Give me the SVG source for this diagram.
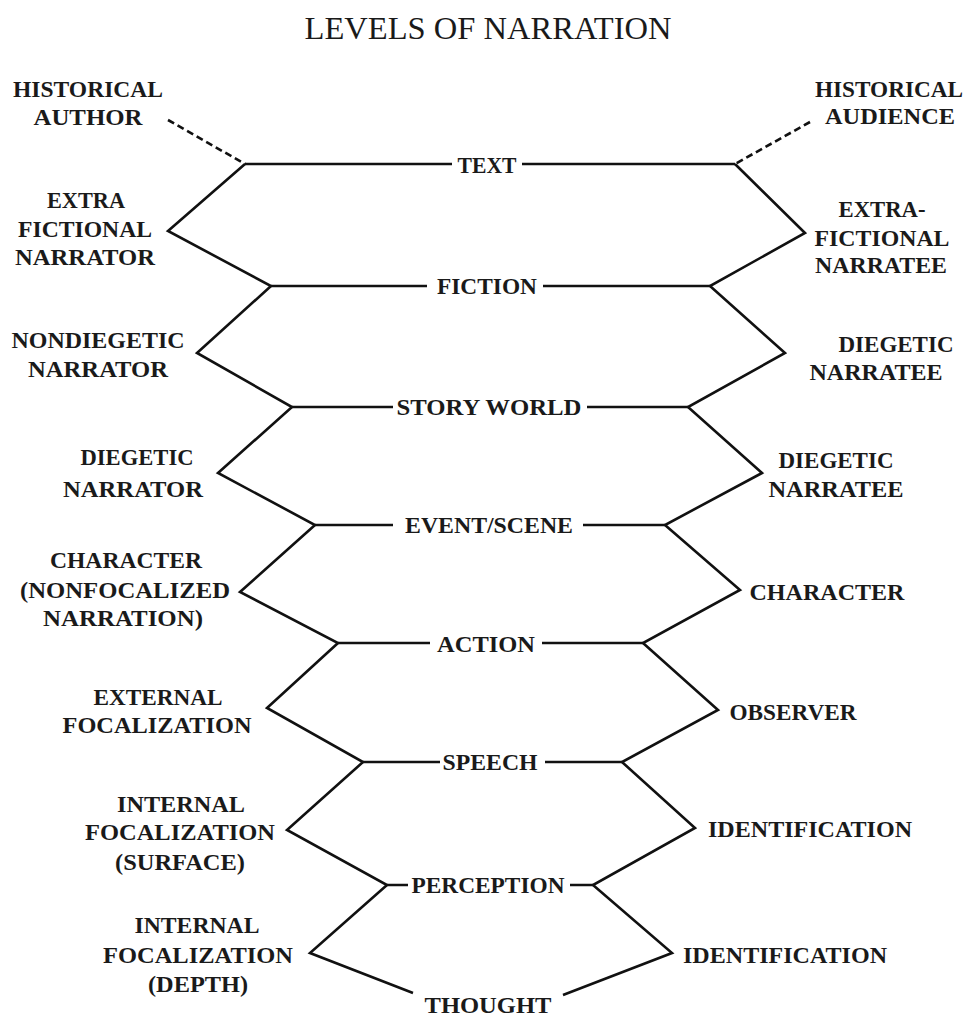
<svg xmlns="http://www.w3.org/2000/svg" width="968" height="1017" viewBox="0 0 968 1017">
<style>
text{font-family:"Liberation Serif","Times New Roman",serif;font-weight:bold;font-size:24px;fill:#1a1a1a;text-anchor:middle}
.title{font-weight:normal;font-size:31px}
.ln{fill:none;stroke:#111;stroke-width:2.6;stroke-linejoin:miter;stroke-linecap:butt}
.dash{fill:none;stroke:#111;stroke-width:2.6;stroke-dasharray:7 4}
</style>
<rect width="968" height="1017" fill="#fff"/>
<g id="title"><text class="title" x="488" y="39" textLength="367" lengthAdjust="spacingAndGlyphs">LEVELS OF NARRATION</text></g>
<g id="connectors">
<path class="dash" d="M168 120 L245 164"/>
<path class="dash" d="M810 122 L735 164"/>
<polyline class="ln" points="245,164 168,231 271,286 197,353 292,407 218,473 315,525 240,592 338,643 267,708 363,762 287,830 387,885 310,953 413,993"/>
<polyline class="ln" points="735,164 805,233 710,286 785,353 688,407 762,473 665,525 740,590 643,643 718,710 622,762 695,828 593,885 672,953 563,995"/>
<path class="ln" d="M245 164H452M522 164H735M271 286H427M543 286H710M292 407H393M587 407H688M315 525H393M583 525H665M338 643H430M542 643H643M363 762H440M545 762H622M387 885H408M570 885H593"/>
</g>
<g id="level-text"><text x="487" y="173" textLength="59" lengthAdjust="spacingAndGlyphs">TEXT</text></g>
<g id="level-fiction"><text x="487" y="294" textLength="100" lengthAdjust="spacingAndGlyphs">FICTION</text></g>
<g id="level-story-world"><text x="489" y="415" textLength="185" lengthAdjust="spacingAndGlyphs">STORY WORLD</text></g>
<g id="level-event-scene"><text x="489" y="533" textLength="168" lengthAdjust="spacingAndGlyphs">EVENT/SCENE</text></g>
<g id="level-action"><text x="486" y="652" textLength="98" lengthAdjust="spacingAndGlyphs">ACTION</text></g>
<g id="level-speech"><text x="490" y="770" textLength="95" lengthAdjust="spacingAndGlyphs">SPEECH</text></g>
<g id="level-perception"><text x="488" y="893" textLength="153" lengthAdjust="spacingAndGlyphs">PERCEPTION</text></g>
<g id="level-thought"><text x="488" y="1013" textLength="127" lengthAdjust="spacingAndGlyphs">THOUGHT</text></g>
<g id="historical-author"><text x="88" y="97" textLength="150" lengthAdjust="spacingAndGlyphs">HISTORICAL</text><text x="88" y="125" textLength="109" lengthAdjust="spacingAndGlyphs">AUTHOR</text></g>
<g id="extra-fictional-narrator"><text x="86" y="208" textLength="78" lengthAdjust="spacingAndGlyphs">EXTRA</text><text x="85" y="237" textLength="134" lengthAdjust="spacingAndGlyphs">FICTIONAL</text><text x="85" y="265" textLength="140" lengthAdjust="spacingAndGlyphs">NARRATOR</text></g>
<g id="nondiegetic-narrator"><text x="98" y="348" textLength="173" lengthAdjust="spacingAndGlyphs">NONDIEGETIC</text><text x="98" y="377" textLength="140" lengthAdjust="spacingAndGlyphs">NARRATOR</text></g>
<g id="diegetic-narrator"><text x="137" y="465" textLength="113" lengthAdjust="spacingAndGlyphs">DIEGETIC</text><text x="133" y="497" textLength="140" lengthAdjust="spacingAndGlyphs">NARRATOR</text></g>
<g id="character-nonfocalized"><text x="126" y="568" textLength="152" lengthAdjust="spacingAndGlyphs">CHARACTER</text><text x="125" y="598" textLength="210" lengthAdjust="spacingAndGlyphs">(NONFOCALIZED</text><text x="123" y="626" textLength="160" lengthAdjust="spacingAndGlyphs">NARRATION)</text></g>
<g id="external-focalization"><text x="158" y="705" textLength="129" lengthAdjust="spacingAndGlyphs">EXTERNAL</text><text x="157" y="733" textLength="189" lengthAdjust="spacingAndGlyphs">FOCALIZATION</text></g>
<g id="internal-focalization-surface"><text x="181" y="812" textLength="128" lengthAdjust="spacingAndGlyphs">INTERNAL</text><text x="180" y="840" textLength="190" lengthAdjust="spacingAndGlyphs">FOCALIZATION</text><text x="180" y="870" textLength="130" lengthAdjust="spacingAndGlyphs">(SURFACE)</text></g>
<g id="internal-focalization-depth"><text x="197" y="933" textLength="125" lengthAdjust="spacingAndGlyphs">INTERNAL</text><text x="198" y="963" textLength="190" lengthAdjust="spacingAndGlyphs">FOCALIZATION</text><text x="198" y="992" textLength="100" lengthAdjust="spacingAndGlyphs">(DEPTH)</text></g>
<g id="historical-audience"><text x="889" y="97" textLength="148" lengthAdjust="spacingAndGlyphs">HISTORICAL</text><text x="890" y="124" textLength="130" lengthAdjust="spacingAndGlyphs">AUDIENCE</text></g>
<g id="extra-fictional-narratee"><text x="882" y="217" textLength="87" lengthAdjust="spacingAndGlyphs">EXTRA-</text><text x="882" y="246" textLength="135" lengthAdjust="spacingAndGlyphs">FICTIONAL</text><text x="881" y="273" textLength="132" lengthAdjust="spacingAndGlyphs">NARRATEE</text></g>
<g id="diegetic-narratee-1"><text x="896" y="352" textLength="115" lengthAdjust="spacingAndGlyphs">DIEGETIC</text><text x="876" y="380" textLength="133" lengthAdjust="spacingAndGlyphs">NARRATEE</text></g>
<g id="diegetic-narratee-2"><text x="836" y="468" textLength="115" lengthAdjust="spacingAndGlyphs">DIEGETIC</text><text x="836" y="497" textLength="135" lengthAdjust="spacingAndGlyphs">NARRATEE</text></g>
<g id="character"><text x="827" y="600" textLength="155" lengthAdjust="spacingAndGlyphs">CHARACTER</text></g>
<g id="observer"><text x="793" y="720" textLength="127" lengthAdjust="spacingAndGlyphs">OBSERVER</text></g>
<g id="identification-1"><text x="810" y="837" textLength="204" lengthAdjust="spacingAndGlyphs">IDENTIFICATION</text></g>
<g id="identification-2"><text x="785" y="963" textLength="204" lengthAdjust="spacingAndGlyphs">IDENTIFICATION</text></g>
</svg>
